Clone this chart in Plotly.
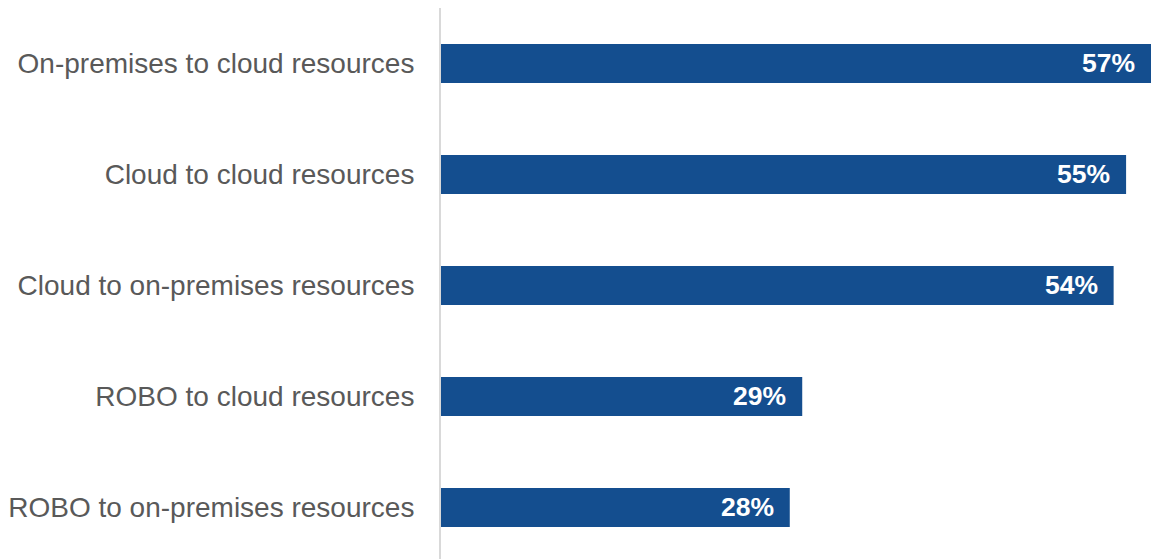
import plotly.graph_objects as go

categories = [
    "On-premises to cloud resources",
    "Cloud to cloud resources",
    "Cloud to on-premises resources",
    "ROBO to cloud resources",
    "ROBO to on-premises resources",
]
values = [57, 55, 54, 29, 28]
value_labels = [f"{v}%" for v in values]

BAR_COLOR = "#144e8f"

fig = go.Figure(
    go.Bar(
        x=values,
        y=categories,
        orientation="h",
        width=0.35,
        marker=dict(color=BAR_COLOR, line=dict(width=0)),
        hoverinfo="skip",
    )
)

# value labels sit inside the right end of each bar
for cat, v, lab in zip(categories, values, value_labels):
    fig.add_annotation(
        x=v, y=cat, text=f"<b>{lab}</b>", showarrow=False,
        xanchor="right", yanchor="middle", xshift=-14, yshift=1,
        font=dict(family="Liberation Sans, Arial", size=26.5, color="white"),
    )

fig.update_layout(
    width=1151, height=559,
    margin=dict(l=441, r=0, t=8, b=0),
    paper_bgcolor="white", plot_bgcolor="white",
    showlegend=False,
    font=dict(family="Liberation Sans, Arial", size=28, color="#595959"),
    xaxis=dict(range=[0, 57], visible=False, fixedrange=True),
    yaxis=dict(
        range=[4.464, -0.5],
        showline=True, linecolor="#d9d9d9", linewidth=2,
        showgrid=False, zeroline=False, ticks="",
        ticklabelstandoff=19,
        tickfont=dict(family="Liberation Sans, Arial", size=28, color="#595959"),
        fixedrange=True,
    ),
)

fig.write_html("out.html")
